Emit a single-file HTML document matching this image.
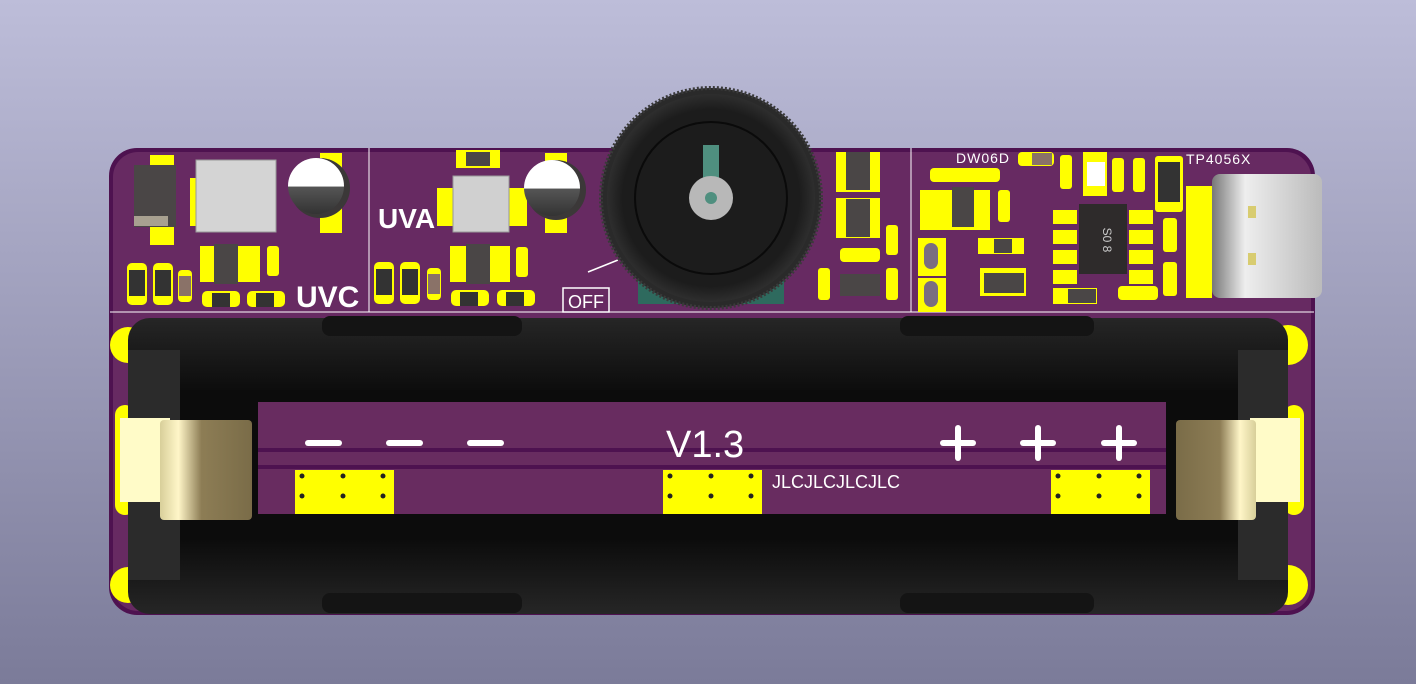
<!DOCTYPE html>
<html><head><meta charset="utf-8"><style>
html,body{margin:0;padding:0;width:1416px;height:684px;overflow:hidden}
svg{display:block}
text{font-family:"Liberation Sans",sans-serif}
</style></head><body>
<svg width="1416" height="684" viewBox="0 0 1416 684" xmlns="http://www.w3.org/2000/svg">
<defs>
<linearGradient id="bg" x1="0" y1="0" x2="0" y2="1"><stop offset="0" stop-color="#bdbdd9"/><stop offset="1" stop-color="#7b7b99"/></linearGradient>
<linearGradient id="bat" x1="0" y1="0" x2="0" y2="1"><stop offset="0" stop-color="#262626"/><stop offset="0.25" stop-color="#0c0c0c"/><stop offset="0.75" stop-color="#0c0c0c"/><stop offset="1" stop-color="#262626"/></linearGradient>
<linearGradient id="clip" x1="0" y1="0" x2="1" y2="0"><stop offset="0" stop-color="#d8cf9a"/><stop offset="0.2" stop-color="#fff6c8"/><stop offset="0.45" stop-color="#8d7d55"/><stop offset="1" stop-color="#7a6c48"/></linearGradient>
<linearGradient id="usb" x1="0" y1="0" x2="1" y2="0"><stop offset="0" stop-color="#777"/><stop offset="0.3" stop-color="#eee"/><stop offset="1" stop-color="#bbb"/></linearGradient>
<linearGradient id="cap" x1="0" y1="0" x2="0" y2="1"><stop offset="0" stop-color="#fff"/><stop offset="0.5" stop-color="#fff"/><stop offset="0.52" stop-color="#555"/><stop offset="1" stop-color="#333"/></linearGradient>
<radialGradient id="knob" cx="0.5" cy="0.5" r="0.5"><stop offset="0.85" stop-color="#1c1c1c"/><stop offset="1" stop-color="#2e2e2e"/></radialGradient>
</defs>
<rect width="1416" height="684" fill="url(#bg)"/>
<rect x="109" y="148" width="1206" height="467" rx="28" fill="#4e1250"/>
<rect x="113" y="152" width="1198" height="459" rx="25" fill="#672a62"/>
<line x1="110" y1="312" x2="1314" y2="312" stroke="#fff" stroke-width="1"/>
<line x1="369" y1="148" x2="369" y2="312" stroke="#fff" stroke-width="1"/>
<line x1="911" y1="148" x2="911" y2="312" stroke="#fff" stroke-width="1"/>
<!-- left section -->
<rect x="150" y="155" width="24" height="90" fill="#ff0"/>
<rect x="134" y="165" width="42" height="62" fill="#4a4646"/>
<rect x="134" y="216" width="34" height="10" fill="#a8a090"/>
<rect x="190" y="178" width="80" height="48" fill="#ff0"/>
<rect x="196" y="160" width="80" height="72" fill="#d4d4d4" stroke="#999"/>
<rect x="320" y="153" width="22" height="80" fill="#ff0"/>
<circle cx="320" cy="188" r="30" fill="#3b3838"/>
<circle cx="316" cy="186" r="28" fill="url(#cap)"/>
<g fill="#ff0">
<rect x="127" y="263" width="20" height="42" rx="5"/><rect x="153" y="263" width="20" height="42" rx="5"/>
<rect x="178" y="270" width="14" height="32" rx="4"/>
<rect x="200" y="246" width="60" height="36"/>
<rect x="267" y="246" width="12" height="30" rx="3"/>
<rect x="202" y="291" width="38" height="16" rx="5"/><rect x="247" y="291" width="38" height="16" rx="5"/>
</g>
<rect x="129" y="270" width="16" height="26" fill="#333"/><rect x="155" y="270" width="16" height="26" fill="#333"/>
<rect x="179" y="276" width="12" height="20" fill="#8a7268"/>
<rect x="214" y="244" width="24" height="40" fill="#4a4646"/>
<rect x="212" y="293" width="18" height="14" fill="#333"/><rect x="256" y="293" width="18" height="14" fill="#333"/>
<text x="296" y="307" font-size="30" fill="#fff" font-weight="bold">UVC</text>
<!-- UVA -->
<text x="378" y="228" font-size="28" fill="#fff" font-weight="bold">UVA</text>
<rect x="456" y="150" width="44" height="18" fill="#ff0"/><rect x="466" y="152" width="24" height="14" fill="#4a4646"/>
<rect x="437" y="188" width="90" height="38" fill="#ff0"/>
<rect x="453" y="176" width="56" height="56" fill="#d0d0d0" stroke="#999"/>
<rect x="545" y="153" width="22" height="80" fill="#ff0"/>
<circle cx="556" cy="190" r="30" fill="#3b3838"/>
<circle cx="552" cy="188" r="28" fill="url(#cap)"/>
<g fill="#ff0">
<rect x="374" y="262" width="20" height="42" rx="5"/><rect x="400" y="262" width="20" height="42" rx="5"/>
<rect x="427" y="268" width="14" height="32" rx="4"/>
<rect x="450" y="246" width="60" height="36"/>
<rect x="516" y="247" width="12" height="30" rx="3"/>
<rect x="451" y="290" width="38" height="16" rx="5"/><rect x="497" y="290" width="38" height="16" rx="5"/>
</g>
<rect x="376" y="269" width="16" height="26" fill="#333"/><rect x="402" y="269" width="16" height="26" fill="#333"/>
<rect x="428" y="274" width="12" height="20" fill="#8a7268"/>
<rect x="466" y="244" width="24" height="40" fill="#4a4646"/>
<rect x="460" y="292" width="18" height="14" fill="#333"/><rect x="506" y="292" width="18" height="14" fill="#333"/>
<rect x="563" y="288" width="46" height="24" fill="none" stroke="#fff" stroke-width="1.5"/>
<text x="568" y="308" font-size="18" fill="#fff">OFF</text>
<line x1="588" y1="272" x2="618" y2="260" stroke="#fff" stroke-width="1.5"/>
<rect x="638" y="280" width="146" height="24" fill="#2e6a5e"/>
<!-- knob -->
<circle cx="711" cy="198" r="110" fill="#2a2a2a" stroke="#3a3a3a" stroke-width="4" stroke-dasharray="2 2"/>
<circle cx="711" cy="198" r="104" fill="url(#knob)"/>
<circle cx="711" cy="198" r="76" fill="none" stroke="#0a0a0a" stroke-width="2"/>
<rect x="703" y="145" width="16" height="40" fill="#4f8f7f"/>
<circle cx="711" cy="198" r="22" fill="#b8b8b8"/>
<circle cx="711" cy="198" r="6" fill="#4f8f7f"/>
<!-- middle right -->
<g fill="#ff0">
<rect x="836" y="152" width="44" height="40"/><rect x="836" y="198" width="44" height="40"/>
<rect x="840" y="248" width="40" height="14" rx="4"/>
<rect x="818" y="268" width="12" height="32" rx="3"/><rect x="886" y="268" width="12" height="32" rx="3"/>
<rect x="886" y="225" width="12" height="30" rx="3"/>
<rect x="930" y="168" width="70" height="14" rx="4"/>
<rect x="920" y="190" width="70" height="40"/>
<rect x="998" y="190" width="12" height="32" rx="3"/>
<rect x="918" y="238" width="28" height="38"/><rect x="918" y="278" width="28" height="34"/>
<rect x="978" y="238" width="46" height="16"/>
<rect x="980" y="268" width="46" height="28"/>
<rect x="1018" y="152" width="36" height="14" rx="4"/>
<rect x="1060" y="155" width="12" height="34" rx="3"/><rect x="1083" y="152" width="24" height="44"/>
<rect x="1112" y="158" width="12" height="34" rx="3"/><rect x="1133" y="158" width="12" height="34" rx="3"/>
<rect x="1155" y="156" width="28" height="56" rx="3"/>
<rect x="1053" y="210" width="24" height="14"/><rect x="1053" y="230" width="24" height="14"/><rect x="1053" y="250" width="24" height="14"/><rect x="1053" y="270" width="24" height="14"/>
<rect x="1129" y="210" width="24" height="14"/><rect x="1129" y="230" width="24" height="14"/><rect x="1129" y="250" width="24" height="14"/><rect x="1129" y="270" width="24" height="14"/>
<rect x="1163" y="218" width="14" height="34" rx="3"/><rect x="1163" y="262" width="14" height="34" rx="3"/>
<rect x="1118" y="286" width="40" height="14" rx="4"/>
<rect x="1053" y="288" width="44" height="16"/>
<rect x="1186" y="186" width="26" height="112"/>
</g>
<rect x="846" y="152" width="24" height="38" fill="#4a4646"/><rect x="846" y="199" width="24" height="38" fill="#4a4646"/>
<rect x="840" y="274" width="40" height="22" fill="#4a4646"/>
<rect x="952" y="187" width="22" height="40" fill="#4a4646"/>
<rect x="994" y="239" width="18" height="14" fill="#4a4646"/>
<rect x="984" y="273" width="40" height="20" fill="#4a4646"/>
<rect x="924" y="243" width="14" height="26" rx="7" fill="#7a6e80"/><rect x="924" y="281" width="14" height="26" rx="7" fill="#7a6e80"/>
<text x="956" y="163" font-size="14" fill="#fff" letter-spacing="1">DW06D</text>
<rect x="1032" y="153" width="20" height="12" fill="#8a7268"/>
<rect x="1087" y="162" width="18" height="24" fill="#fff"/>
<rect x="1158" y="162" width="22" height="40" fill="#333"/>
<rect x="1079" y="204" width="48" height="70" fill="#2e2b2b"/>
<text x="1103" y="240" font-size="12" fill="#ccc" transform="rotate(90 1103 240)" text-anchor="middle">S0 8</text>
<rect x="1068" y="289" width="28" height="14" fill="#4a4646"/>
<text x="1186" y="164" font-size="14" fill="#fff" letter-spacing="1">TP4056X</text>
<rect x="1212" y="174" width="110" height="124" rx="8" fill="url(#usb)"/>
<rect x="1248" y="206" width="8" height="12" fill="#d8cc70"/><rect x="1248" y="253" width="8" height="12" fill="#d8cc70"/>
<!-- side pads -->
<g fill="#ff0">
<circle cx="128" cy="345" r="18"/><circle cx="128" cy="585" r="18"/>
<rect x="115" y="405" width="20" height="110" rx="10"/>
<rect x="1284" y="405" width="20" height="110" rx="10"/>
<circle cx="1288" cy="345" r="20"/><circle cx="1288" cy="585" r="20"/>
</g>
<!-- battery holder -->
<rect x="128" y="318" width="1160" height="296" rx="22" fill="url(#bat)"/>
<rect x="322" y="316" width="200" height="20" rx="8" fill="#141414"/><rect x="900" y="316" width="194" height="20" rx="8" fill="#141414"/>
<rect x="322" y="593" width="200" height="20" rx="8" fill="#141414"/><rect x="900" y="593" width="194" height="20" rx="8" fill="#141414"/>
<rect x="128" y="350" width="52" height="230" fill="#2b2b2b"/>
<rect x="1238" y="350" width="50" height="230" fill="#2b2b2b"/>
<!-- label window -->
<rect x="258" y="402" width="908" height="112" fill="#682c60"/>
<line x1="258" y1="450" x2="1166" y2="450" stroke="#4e1250" stroke-width="4"/>
<line x1="258" y1="467" x2="1166" y2="467" stroke="#4e1250" stroke-width="4"/>
<g fill="#fff"><rect x="305" y="440" width="37" height="6" rx="3"/><rect x="386" y="440" width="37" height="6" rx="3"/><rect x="467" y="440" width="37" height="6" rx="3"/>
<rect x="940" y="440" width="36" height="6" rx="3"/><rect x="955" y="425" width="6" height="36" rx="3"/>
<rect x="1020" y="440" width="36" height="6" rx="3"/><rect x="1035" y="425" width="6" height="36" rx="3"/>
<rect x="1101" y="440" width="36" height="6" rx="3"/><rect x="1116" y="425" width="6" height="36" rx="3"/></g>
<text x="666" y="457" font-size="38" fill="#fff">V1.3</text>
<text x="772" y="488" font-size="18" fill="#fff">JLCJLCJLCJLC</text>
<g fill="#ff0"><rect x="295" y="470" width="99" height="44"/><rect x="663" y="470" width="99" height="44"/><rect x="1051" y="470" width="99" height="44"/></g>
<g fill="#222">
<circle cx="302" cy="476" r="2.5"/><circle cx="343" cy="476" r="2.5"/><circle cx="383" cy="476" r="2.5"/><circle cx="302" cy="496" r="2.5"/><circle cx="343" cy="496" r="2.5"/><circle cx="383" cy="496" r="2.5"/>
<circle cx="670" cy="476" r="2.5"/><circle cx="711" cy="476" r="2.5"/><circle cx="751" cy="476" r="2.5"/><circle cx="670" cy="496" r="2.5"/><circle cx="711" cy="496" r="2.5"/><circle cx="751" cy="496" r="2.5"/>
<circle cx="1058" cy="476" r="2.5"/><circle cx="1099" cy="476" r="2.5"/><circle cx="1139" cy="476" r="2.5"/><circle cx="1058" cy="496" r="2.5"/><circle cx="1099" cy="496" r="2.5"/><circle cx="1139" cy="496" r="2.5"/>
</g>
<!-- clips -->
<rect x="120" y="418" width="50" height="84" fill="#fffbc8"/>
<rect x="160" y="420" width="92" height="100" rx="4" fill="url(#clip)"/>
<rect x="1250" y="418" width="50" height="84" fill="#fffbc8"/>
<rect x="1176" y="420" width="80" height="100" rx="4" fill="url(#clip)" transform="scale(-1 1) translate(-2432 0)"/>
</svg>
</body></html>
